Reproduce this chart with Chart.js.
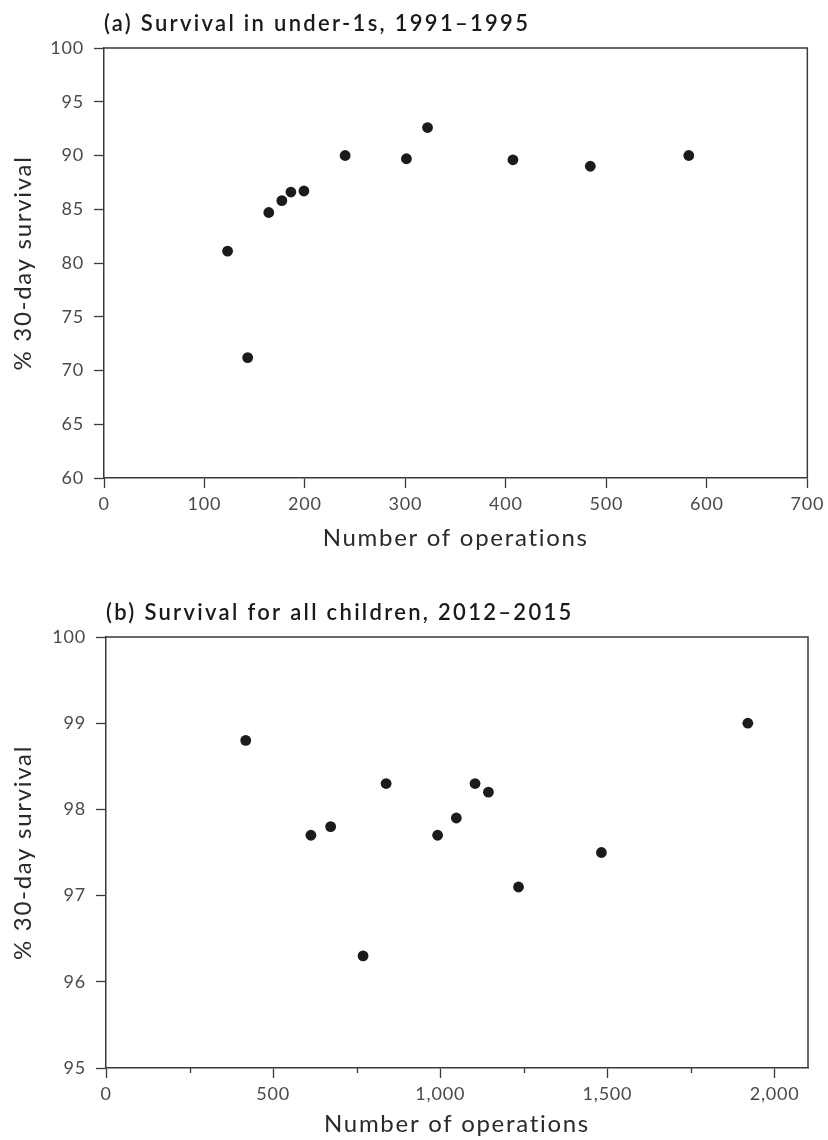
<!DOCTYPE html>
<html>
<head>
<meta charset="utf-8">
<title>Survival after children's heart surgery</title>
<script src="https://cdn.jsdelivr.net/npm/chart.js@4.4.0/dist/chart.umd.min.js"></script>
<style>
  html, body { margin: 0; padding: 0; background: #ffffff; }
  #wrap { position: relative; width: 828px; height: 1140px; }
  .panel { position: absolute; left: 0; width: 828px; }
  #panelA { top: 0; height: 575px; }
  #panelB { top: 575px; height: 565px; }
  canvas { display: block; }
</style>
</head>
<body>
<div id="wrap">
  <div class="panel" id="panelA"><canvas id="chartA" width="828" height="575"></canvas></div>
  <div class="panel" id="panelB"><canvas id="chartB" width="828" height="565"></canvas></div>
</div>
<script>
// (a) Survival in under-1s, 1991–1995: one point per hospital
const underOnesTitle = '(a) Survival in under-1s, 1991\u20131995';
const underOnesOperations = [123, 143, 164, 177, 186, 199, 240, 301, 322, 407, 484, 582];
const underOnesSurvival   = [81.1, 71.2, 84.7, 85.8, 86.6, 86.7, 90.0, 89.7, 92.6, 89.6, 89.0, 90.0];
const underOnesXTicks = [0, 100, 200, 300, 400, 500, 600, 700];
const underOnesYTicks = [60, 65, 70, 75, 80, 85, 90, 95, 100];

// (b) Survival for all children, 2012–2015: one point per hospital
const allChildrenTitle = '(b) Survival for all children, 2012\u20132015';
const allChildrenOperations = [418, 613, 672, 769, 838, 992, 1048, 1104, 1144, 1234, 1482, 1920];
const allChildrenSurvival   = [98.8, 97.7, 97.8, 96.3, 98.3, 97.7, 97.9, 98.3, 98.2, 97.1, 97.5, 99.0];
const allChildrenXTicks = [0, 500, 1000, 1500, 2000];
const allChildrenXMinorTicks = [250, 750, 1250, 1750];
const allChildrenXMax = 2100;
const allChildrenYTicks = [95, 96, 97, 98, 99, 100];

const xAxisTitle = 'Number of operations';
const yAxisTitle = '% 30-day survival';

const FONT = 'Lato, "Open Sans", sans-serif';
const INK = '#1b1b1b';
const AXIS = '#3a3a3a';
const LABEL = '#4a4a4a';
const TITLE_TRACKING = '1.7px';
const LABEL_TRACKING = '0.8px';
const HEADING_TRACKING = '2.3px';

// Slightly open tracking for axis titles and tick labels
const baseDrawTitle = Chart.Scale.prototype.drawTitle;
Chart.Scale.prototype.drawTitle = function () {
  const ctx = this.ctx;
  ctx.save();
  ctx.letterSpacing = TITLE_TRACKING;
  baseDrawTitle.call(this);
  ctx.restore();
};
const baseDrawLabels = Chart.Scale.prototype.drawLabels;
Chart.Scale.prototype.drawLabels = function (area) {
  const ctx = this.ctx;
  ctx.save();
  ctx.letterSpacing = LABEL_TRACKING;
  baseDrawLabels.call(this, area);
  ctx.restore();
};

// Closes the plot box with top and right edges
const frameEdges = {
  id: 'frameEdges',
  beforeDatasetsDraw(chart) {
    const { ctx, chartArea: a } = chart;
    ctx.save();
    ctx.strokeStyle = AXIS;
    ctx.lineWidth = 1.5;
    ctx.beginPath();
    ctx.moveTo(a.left, a.top);
    ctx.lineTo(a.right, a.top);
    ctx.lineTo(a.right, a.bottom);
    ctx.stroke();
    ctx.restore();
  }
};

// Panel heading, left-aligned with the plot box
const panelHeading = {
  id: 'panelHeading',
  afterDraw(chart, args, opts) {
    if (!opts.text) return;
    const { ctx, chartArea: a } = chart;
    ctx.save();
    ctx.font = '600 22px ' + FONT;
    ctx.letterSpacing = HEADING_TRACKING;
    ctx.fillStyle = '#1a1a1a';
    ctx.textAlign = 'left';
    ctx.textBaseline = 'alphabetic';
    ctx.fillText(opts.text, a.left, opts.baseline);
    ctx.restore();
  }
};

// Short unlabelled tick marks between the labelled x ticks
const minorXTicks = {
  id: 'minorXTicks',
  afterDraw(chart, args, opts) {
    if (!opts.values || !opts.values.length) return;
    const { ctx, scales: { x } } = chart;
    ctx.save();
    ctx.strokeStyle = AXIS;
    ctx.lineWidth = 1.3;
    ctx.beginPath();
    opts.values.forEach(v => {
      const px = Math.round(x.getPixelForValue(v)) + 0.5;
      ctx.moveTo(px, x.top);
      ctx.lineTo(px, x.top + opts.length);
    });
    ctx.stroke();
    ctx.restore();
  }
};

function buildPanel(canvasId, cfg) {
  const points = cfg.xs.map((x, i) => ({ x: x, y: cfg.ys[i] }));
  return new Chart(document.getElementById(canvasId), {
    type: 'scatter',
    data: {
      datasets: [{
        data: points,
        backgroundColor: INK,
        borderColor: INK,
        borderWidth: 0,
        pointRadius: 5.4,
        pointHoverRadius: 5.4
      }]
    },
    options: {
      responsive: false,
      animation: false,
      devicePixelRatio: 1,
      layout: { padding: { top: cfg.padTop, right: cfg.padRight, left: 0, bottom: 0 } },
      plugins: {
        legend: { display: false },
        tooltip: { enabled: false },
        panelHeading: { text: cfg.title, baseline: cfg.titleBaseline },
        minorXTicks: { values: cfg.xMinor || [], length: 5 }
      },
      scales: {
        x: {
          type: 'linear',
          min: cfg.xMin,
          max: cfg.xMax,
          afterBuildTicks: s => { s.ticks = cfg.xTicks.map(v => ({ value: v })); },
          afterFit: s => { s.height = cfg.xAxisHeight; },
          ticks: {
            autoSkip: false,
            maxRotation: 0,
            padding: 5,
            color: LABEL,
            font: { family: FONT, size: 18 },
            callback: v => Number(v).toLocaleString('en-US')
          },
          grid: {
            drawOnChartArea: false,
            drawTicks: true,
            tickLength: 10,
            tickColor: AXIS,
            tickWidth: 1.3
          },
          border: { display: true, color: AXIS, width: 1.5 },
          title: {
            display: true,
            text: xAxisTitle,
            color: '#2a2a2a',
            font: { family: FONT, size: 24 },
            padding: { top: 0, bottom: cfg.xTitlePad }
          }
        },
        y: {
          type: 'linear',
          min: cfg.yTicks[0],
          max: cfg.yTicks[cfg.yTicks.length - 1],
          afterBuildTicks: s => { s.ticks = cfg.yTicks.map(v => ({ value: v })); },
          afterFit: s => { s.width = cfg.yAxisWidth; },
          ticks: {
            autoSkip: false,
            padding: 10,
            color: LABEL,
            font: { family: FONT, size: 18 }
          },
          grid: {
            drawOnChartArea: false,
            drawTicks: true,
            tickLength: 10,
            tickColor: AXIS,
            tickWidth: 1.3
          },
          border: { display: true, color: AXIS, width: 1.5 },
          title: {
            display: true,
            text: yAxisTitle,
            color: '#2a2a2a',
            font: { family: FONT, size: 24 },
            padding: { top: 9, bottom: 0 }
          }
        }
      }
    },
    plugins: [frameEdges, panelHeading, minorXTicks]
  });
}

function drawAll() {
  buildPanel('chartA', {
    title: underOnesTitle,
    titleBaseline: 31,
    xs: underOnesOperations,
    ys: underOnesSurvival,
    xTicks: underOnesXTicks,
    xMin: underOnesXTicks[0],
    xMax: underOnesXTicks[underOnesXTicks.length - 1],
    yTicks: underOnesYTicks,
    padTop: 48,
    padRight: 18,
    yAxisWidth: 104,
    xAxisHeight: 97,
    xTitlePad: 22
  });
  buildPanel('chartB', {
    title: allChildrenTitle,
    titleBaseline: 45,
    xs: allChildrenOperations,
    ys: allChildrenSurvival,
    xTicks: allChildrenXTicks,
    xMinor: allChildrenXMinorTicks,
    xMin: allChildrenXTicks[0],
    xMax: allChildrenXMax,
    yTicks: allChildrenYTicks,
    padTop: 62,
    padRight: 20,
    yAxisWidth: 106,
    xAxisHeight: 72,
    xTitlePad: 1
  });
}

if (document.fonts && document.fonts.load) {
  Promise.all([
    document.fonts.load('18px Lato'),
    document.fonts.load('600 22px Lato')
  ]).then(drawAll, drawAll);
} else {
  drawAll();
}
</script>
</body>
</html>
